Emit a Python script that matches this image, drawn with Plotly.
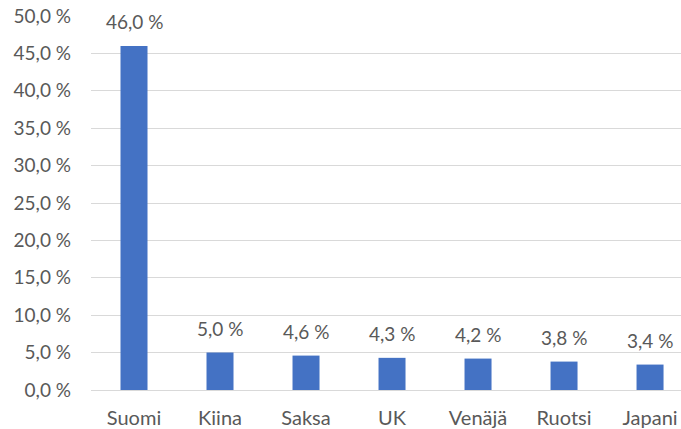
import plotly.graph_objects as go

categories = ["Suomi", "Kiina", "Saksa", "UK", "Venäjä", "Ruotsi", "Japani"]
values = [46.0, 5.0, 4.6, 4.3, 4.2, 3.8, 3.4]
tick_values = [0, 5, 10, 15, 20, 25, 30, 35, 40, 45, 50]
tick_labels = [f"{v:.1f} %".replace(".", ",") for v in tick_values]
bar_labels = [f"{v:.1f} %".replace(".", ",") for v in values]

font_family = "Lato, Open Sans, sans-serif"
gray = "#595959"
fsize = 20
num_size = 19

fig = go.Figure(go.Bar(
    x=categories, y=values,
    marker=dict(color="#4472C4", line=dict(width=0)),
    hoverinfo="skip",
))

for c, v, t in zip(categories, values, bar_labels):
    fig.add_annotation(
        x=c, y=v, text=t, showarrow=False, yanchor="bottom", yshift=11,
        font=dict(family=font_family, size=num_size, color=gray),
    )

fig.update_layout(
    width=681, height=429,
    margin=dict(l=91, r=0, t=16, b=39),
    plot_bgcolor="white", paper_bgcolor="white",
    bargap=0.686,
    showlegend=False,
    font=dict(family=font_family, size=fsize, color=gray),
)
fig.update_xaxes(
    range=[-0.5, 6.36], showgrid=False, showline=True, automargin=False,
    linecolor="#d9d9d9", linewidth=1, ticks="", ticklabelstandoff=10,
    ticklabeloverflow="allow",
    tickfont=dict(family=font_family, size=fsize, color=gray),
)
fig.update_yaxes(
    range=[0, 50], tickvals=tick_values, ticktext=tick_labels,
    showgrid=True, gridcolor="#d9d9d9", gridwidth=1, zeroline=False,
    showline=False, ticks="", ticklabelstandoff=19, automargin=False,
    ticklabeloverflow="allow",
    tickfont=dict(family=font_family, size=num_size, color=gray),
)

page_css = (
    "document.body.style.margin='0';"
    "document.body.style.overflow='hidden';"
    "document.documentElement.style.overflow='hidden';"
)
fig.write_html("out.html", post_script=page_css,
               config={"displayModeBar": False, "staticPlot": True})
